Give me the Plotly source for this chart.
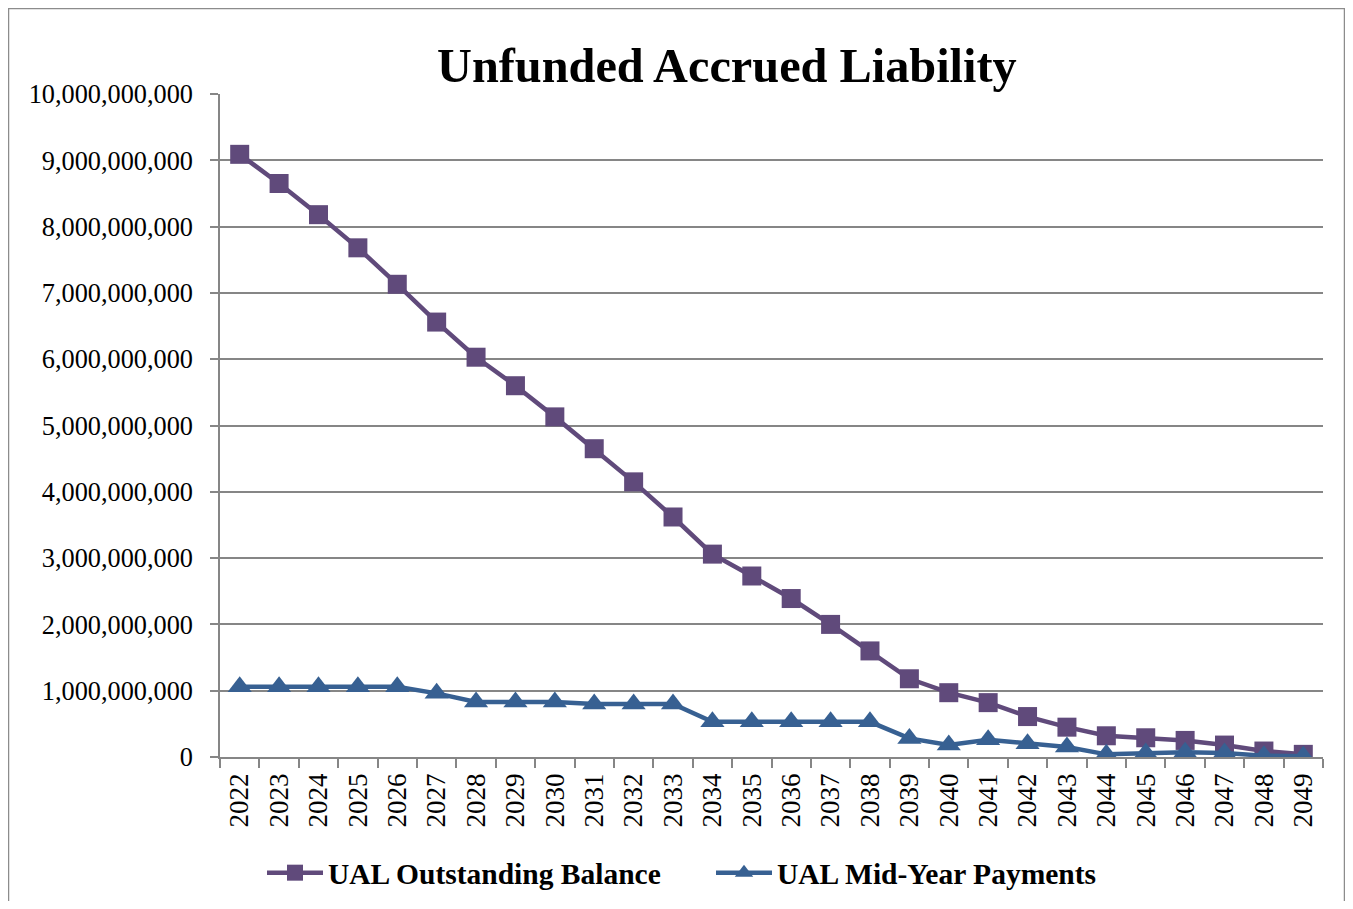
import plotly.graph_objects as go

years = [str(y) for y in range(2022, 2050)]
outstanding_balance = [
    9.09e9, 8.65e9, 8.18e9, 7.68e9, 7.13e9, 6.56e9, 6.03e9, 5.60e9, 5.13e9, 4.65e9,
    4.15e9, 3.62e9, 3.06e9, 2.73e9, 2.39e9, 2.00e9, 1.60e9, 1.18e9, 0.97e9, 0.82e9,
    0.61e9, 0.45e9, 0.32e9, 0.29e9, 0.25e9, 0.18e9, 0.09e9, 0.04e9,
]
mid_year_payments = [
    1.06e9, 1.06e9, 1.06e9, 1.06e9, 1.06e9, 0.96e9, 0.83e9, 0.83e9, 0.83e9, 0.80e9,
    0.80e9, 0.80e9, 0.53e9, 0.53e9, 0.53e9, 0.53e9, 0.53e9, 0.28e9, 0.18e9, 0.26e9,
    0.20e9, 0.15e9, 0.04e9, 0.06e9, 0.07e9, 0.06e9, 0.02e9, 0.01e9,
]
y_ticks = [i * 1e9 for i in range(0, 11)]
y_ticktext = [f"{int(v):,}" for v in y_ticks]

TITLE = "Unfunded Accrued Liability"
NAMES = ["UAL Outstanding Balance", "UAL Mid-Year Payments"]

OFF = 8  # page offset of the figure (body margin)
W, H = 1337, 893
ML, MR, MT, MB = 212, 22, 86, 144
PW, PH = W - ML - MR, H - MT - MB
FONT = "Times New Roman, Liberation Serif, serif"


def px_x(x):
    """page x pixel -> paper fraction"""
    return (x - OFF - ML) / PW


def px_y(y):
    """page y pixel -> paper fraction"""
    return (H - MB - (y - OFF)) / PH


fig = go.Figure()
fig.add_trace(go.Scatter(
    x=years, y=outstanding_balance, name=NAMES[0], mode="lines+markers",
    line=dict(color="#604A7B", width=4.5),
    marker=dict(symbol="square", size=19, color="#604A7B"),
))
fig.add_trace(go.Scatter(
    x=years, y=mid_year_payments, name=NAMES[1], mode="lines+markers",
    line=dict(color="#376092", width=4.5),
    marker=dict(symbol="triangle-up", size=21, color="#376092"),
))

fig.update_layout(
    width=W, height=H,
    margin=dict(l=ML, r=MR, t=MT, b=MB, pad=0, autoexpand=False),
    paper_bgcolor="white", plot_bgcolor="white",
    font=dict(family=FONT, size=26, color="black"),
    showlegend=True,
    legend=dict(
        orientation="h", x=px_x(262), y=px_y(873), xanchor="left", yanchor="middle",
        font=dict(family=FONT, size=29.5, color="black", weight="bold"),
        entrywidth=378, itemwidth=56, bgcolor="rgba(0,0,0,0)",
    ),
    annotations=[dict(
        text=f"<b>{TITLE}</b>", xref="paper", yref="paper",
        x=px_x(726.5), y=px_y(66), xanchor="center", yanchor="middle",
        showarrow=False, font=dict(family=FONT, size=48.3, color="black"),
    )],
    shapes=[dict(
        type="rect", xref="paper", yref="paper",
        x0=px_x(8.5), x1=px_x(1344.5), y0=px_y(8.5), y1=px_y(OFF + H + 20),
        line=dict(color="#8c8c8c", width=1.5), fillcolor="rgba(0,0,0,0)", layer="below",
    )],
)

fig.update_xaxes(
    type="category", range=[-0.5, len(years) - 0.5], autorange=False,
    tickson="boundaries", ticks="outside", ticklen=9,
    tickcolor="#868686", tickwidth=1.5, tickangle=-90,
    showline=True, linecolor="#868686", linewidth=1.5, showgrid=False,
    tickfont=dict(family=FONT, size=27), ticklabelstandoff=4, automargin=False,
)
fig.update_yaxes(
    range=[0, 1e10], tickvals=y_ticks, ticktext=y_ticktext,
    ticks="outside", ticklen=8, tickcolor="#868686", tickwidth=1.5,
    showline=True, linecolor="#868686", linewidth=1.5,
    showgrid=True, gridcolor="#868686", gridwidth=1.5, zeroline=False,
    tickfont=dict(family=FONT, size=26.3), ticklabelstandoff=12, automargin=False,
)

fig.write_html("out.html")
